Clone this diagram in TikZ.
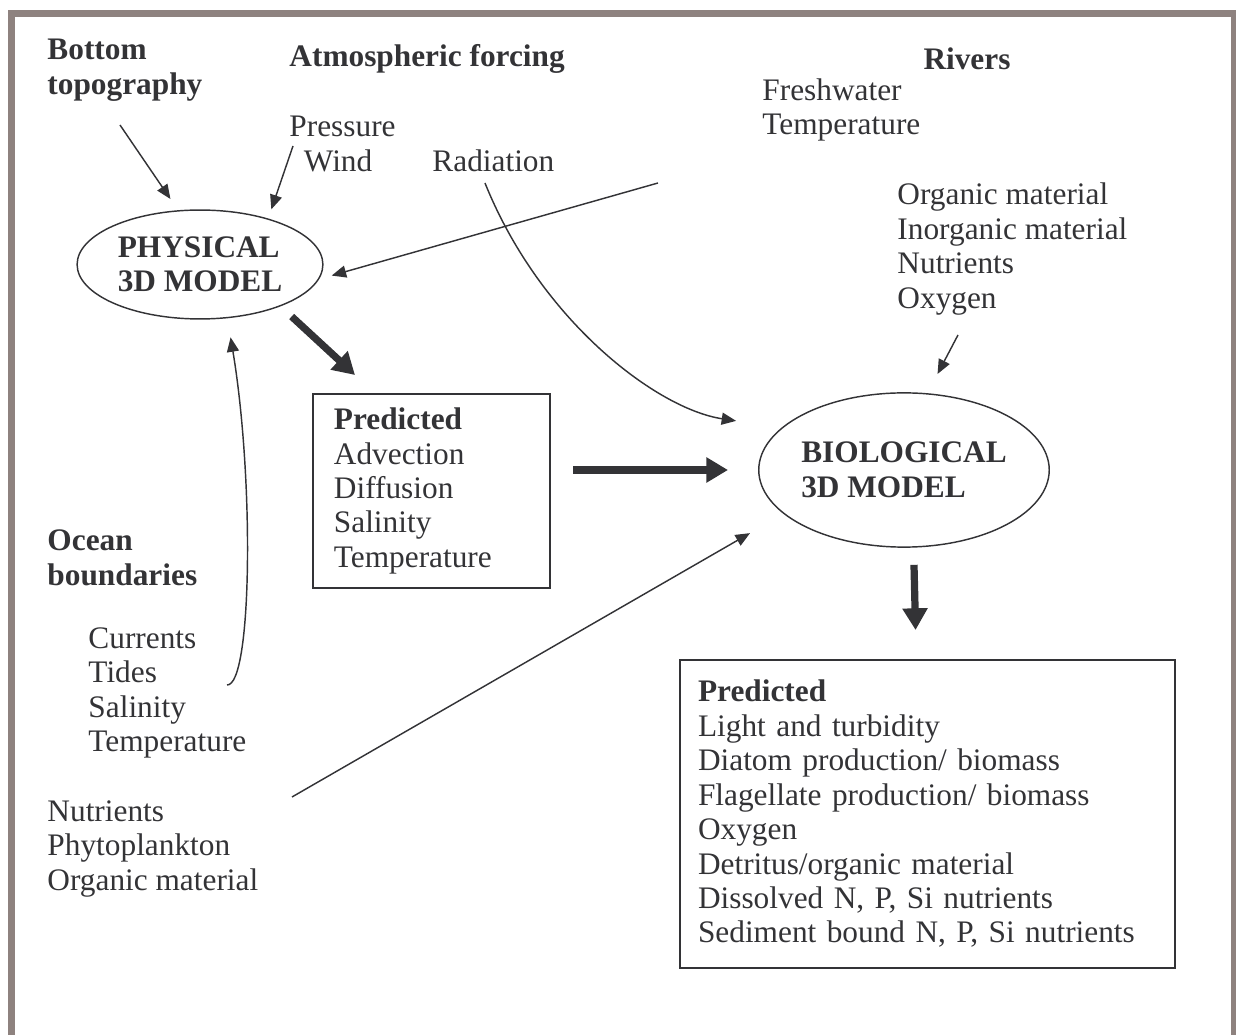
\documentclass[tikz,border=0pt]{standalone}
\usepackage{fontspec}
\setmainfont{Liberation Serif}
\usepackage{xcolor}
\usepackage{tikz}
\usetikzlibrary{shapes,arrows,positioning,calc,arrows.meta}

\definecolor{ink}{HTML}{333336}
\definecolor{rim}{HTML}{8E827F}

\tikzset{
    lbl/.style={anchor=west, align=left, inner sep=0pt},
    head/.style={lbl, font=\fontsize{13}{14.3}\selectfont\bfseries},
    model/.style={ellipse, draw=ink, line width=0.6pt, inner sep=0pt, align=left,
        font=\fontsize{13}{14.3}\selectfont\bfseries},
    predbox/.style={draw=ink, line width=0.8pt, anchor=north west, align=left, inner ysep=0pt},
    feed/.style={draw=ink, line width=0.6pt, -{Triangle[length=6pt,width=5pt]}},
    flow/.style={draw=ink, line width=3pt, -{Triangle[length=9pt,width=10pt]}}
}

\begin{document}
\begin{tikzpicture}[x=0.415pt, y=-0.415pt, font=\fontsize{13}{14.3}\selectfont,
    every node/.style={text=ink}]
    \useasboundingbox (0,0) rectangle (1236,1035);

    % Frame
    \draw[rim, line width=3.1pt] (11.5,1040) -- (11.5,13.5) -- (1235,13.5) -- (1235,1040);

    % Forcing labels
    \node[head] (topo) at (47,70) {Bottom\\topography};
    \node[head] (atmos) at (289,59) {Atmospheric forcing};
    \node[head, anchor=center] (rivers) at (967,59) {Rivers};
    \node[lbl] (fresh) at (762,110) {Freshwater\\Temperature};
    \node[lbl] (press) at (289,144) {Pressure\\\hspace*{6pt}Wind};
    \node[lbl] (rad) at (432,161) {Radiation};
    \node[lbl] (loads) at (897,249) {Organic material\\Inorganic material\\Nutrients\\Oxygen};
    \node[head] (ocean) at (47,558) {Ocean\\boundaries};
    \node[lbl] (bound) at (88,693) {Currents\\Tides\\Salinity\\Temperature};
    \node[lbl] (seed) at (47,849) {Nutrients\\Phytoplankton\\Organic material};

    % Models
    \node[model, minimum width=102pt, minimum height=45.2pt] (phys) at (200,264.5) {PHYSICAL\\3D MODEL};
    \node[model, minimum width=116pt, minimum height=64pt] (bio) at (904,470) {BIOLOGICAL\\3D MODEL};

    % Predicted boxes
    \node[predbox, inner xsep=8.7pt, text width=81pt, minimum height=80.5pt] (pred1) at (312,393)
        {\textbf{Predicted}\\Advection\\Diffusion\\Salinity\\Temperature};
    \node[predbox, inner xsep=7.5pt, text width=190.5pt, minimum height=127.8pt] (pred2) at (679,659)
        {\textbf{Predicted}\\Light and turbidity\\Diatom production/ biomass\\Flagellate production/ biomass\\Oxygen\\Detritus/organic material\\Dissolved N, P, Si nutrients\\Sediment bound N, P, Si nutrients};

    % Free ends of inputs
    \coordinate (topoin) at (120,125);
    \coordinate (pressin) at (293,146);
    \coordinate (radin) at (485,183);
    \coordinate (rivin) at (658,183);
    \coordinate (oxyin) at (958,335);
    \coordinate (tidein) at (227,685);
    \coordinate (seedin) at (292,797);

    % Inputs
    \draw[feed, shorten >=5.6pt] (topoin) -- (phys.112);
    \draw[feed, shorten >=4pt] (pressin) -- (phys.34);
    \draw[feed, shorten >=5.4pt] (rivin) -- (phys.-7);
    \draw[feed, shorten >=8pt] (tidein) .. controls +(25,1) and +(27,162) .. (phys.-63);
    \draw[feed, shorten >=19pt] (radin) .. controls +(55,137) and +(-125,-19) .. (bio.161);
    \draw[feed, shorten >=9pt] (oxyin) -- (bio.73);
    \draw[feed, shorten >=16pt] (seedin) -- (bio.-160);

    % Model flow
    \draw[flow] ($(phys.-22)+(0,15)$) -- ($(pred1.north west)+(43,-18)$);
    \draw[flow] ($(pred1.east |- bio.west)+(22,0)$) -- ($(bio.west)+(-30,0)$);
    \draw[flow] ($(bio.south)+(10,17)$) -- ($(pred2.north)+(-12,-29)$);
\end{tikzpicture}
\end{document}
